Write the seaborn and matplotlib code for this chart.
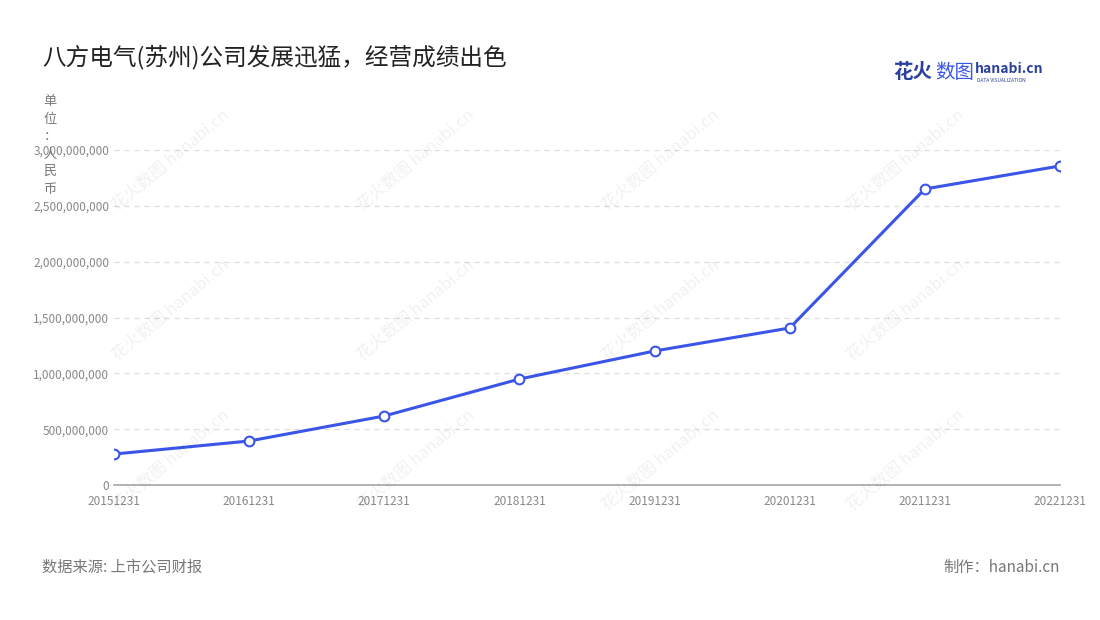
import matplotlib
matplotlib.use("Agg")
import matplotlib.pyplot as plt
import seaborn as sns
import pandas as pd

dates = ["20151231","20161231","20171231","20181231","20191231","20201231","20211231","20221231"]
revenue = [277e6, 394e6, 618e6, 949e6, 1200e6, 1406e6, 2651e6, 2857e6]
title = "八方电气(苏州)公司发展迅猛，经营成绩出色"
unit = "单\n位\n：\n人\n民\n币"

sns.set_theme(style="white")
plt.rcParams['font.family'] = ['Noto Sans CJK SC', 'DejaVu Sans']

df = pd.DataFrame({"date": dates, "x": range(len(dates)), "v": revenue})
fig = plt.figure(figsize=(11, 6.2), dpi=100)
ax = fig.add_axes([114/1100, 1-485/620, (1060-114)/1100, (485-150)/620])
sns.lineplot(data=df, x="x", y="v", ax=ax, color="#3a55e8", linewidth=2.2,
             marker="o", markersize=7, markerfacecolor="white",
             markeredgecolor="#3a55e8", markeredgewidth=1.5)
ax.set_xlim(0, len(dates)-1)
ax.set_ylim(0, 3e9)
ax.set_xticks(range(len(dates)))
ax.set_xticklabels(dates)
ticks = [0, 5e8, 1e9, 1.5e9, 2e9, 2.5e9, 3e9]
ax.set_yticks(ticks)
ax.set_yticklabels([f"{int(t):,}" for t in ticks])
ax.tick_params(axis='both', labelsize=8.5, colors="#888888", length=4)
ax.tick_params(axis='y', length=0)
ax.grid(axis='y', linestyle=(0, (4, 4)), color="#dddddd", linewidth=0.9)
ax.set_xlabel(""); ax.set_ylabel("")
for s in ["top", "right", "left"]:
    ax.spines[s].set_visible(False)
ax.spines["bottom"].set_color("#aaaaaa")

fig.text(42/1100, 1-57/620, title, fontsize=17, color="#222222", va="center")
fig.text(50/1100, 1-95/620, unit, fontsize=9.5, color="#777777", va="top", ha="center", linespacing=1.45)
fig.text(42/1100, 1-567/620, "数据来源: 上市公司财报", fontsize=11, color="#777777", va="center")
fig.text(1060/1100, 1-567/620, "制作：hanabi.cn", fontsize=11, color="#777777", va="center", ha="right")
fig.text(893/1100, 1-72/620, "花火", fontsize=14, color="#2a3f9e", fontweight="bold", va="center")
fig.text(935/1100, 1-72/620, "数图", fontsize=14, color="#3a55e8", va="center")
fig.text(975/1100, 1-69/620, "hanabi.cn", fontsize=10, color="#2a3f9e", fontweight="bold", va="center")
fig.text(977/1100, 1-80/620, "DATA VISUALIZATION", fontsize=3.5, color="#2a3f9e", va="center")
for wx in [170, 415, 660, 905]:
    for wy in [160, 310, 460]:
        fig.text(wx/1100, 1-wy/620, "花火数图 hanabi.cn", fontsize=12, color="#000000",
                 alpha=0.06, rotation=40, ha="center", va="center")
fig.savefig("out.png", dpi=100)
